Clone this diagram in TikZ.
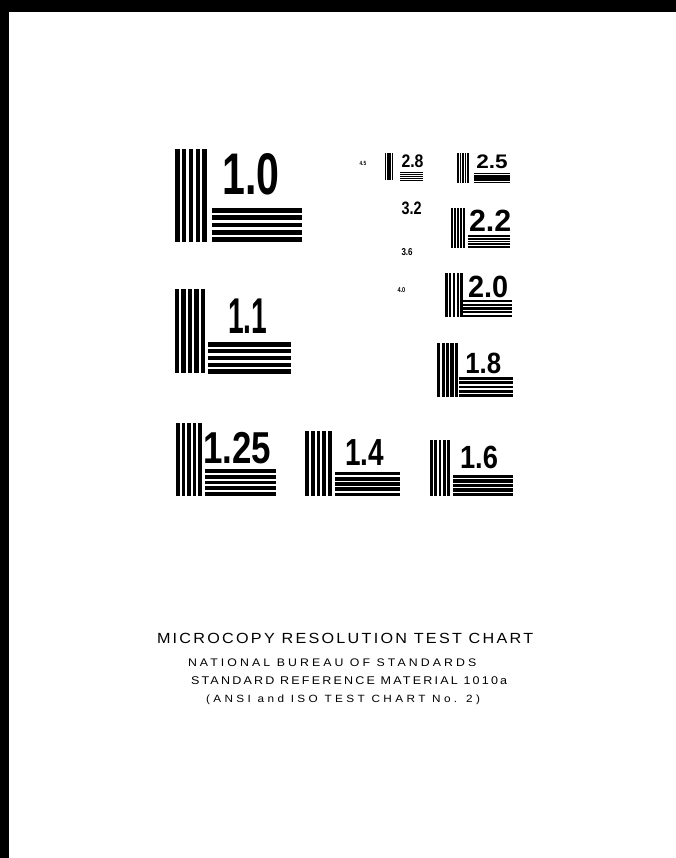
\documentclass[tikz,border=0pt]{standalone}
\usepackage{graphicx}
\usepackage{fontspec}
\setmainfont{Liberation Sans}
\usepackage{tikz}

% five bars across a box: left, top, right, bottom
\newcommand{\vbars}[4]{%
  \pgfmathsetmacro\barw{#3-#1}\pgfmathsetmacro\barh{#4-#2}%
  \begin{scope}[shift={(#1,#2)},xscale=\barw,yscale=\barh]
    \foreach \k in {0,...,4} \fill (\k*0.2141,0) rectangle ++(0.1435,1);
  \end{scope}}
\newcommand{\hbars}[4]{%
  \pgfmathsetmacro\barw{#3-#1}\pgfmathsetmacro\barh{#4-#2}%
  \begin{scope}[shift={(#1,#2)},xscale=\barw,yscale=\barh]
    \foreach \k in {0,...,4} \fill (0,\k*0.2141) rectangle ++(1,0.1435);
  \end{scope}}
\newcommand{\numtext}[3]{\fontsize{#1}{#1}\selectfont\bfseries\scalebox{#2}[1]{#3}}
\newcommand{\captext}[4]{\fontsize{#1}{#1}\selectfont\addfontfeature{LetterSpace=#3}\scalebox{#2}[1]{#4}}

\begin{document}
\begin{tikzpicture}[
    x=1pt, y=-1pt,
    numlabel/.style={anchor=base west, inner sep=0pt, outer sep=0pt},
    caption/.style={anchor=base west, inner sep=0pt, outer sep=0pt}
]
\useasboundingbox (0,0) rectangle (676,858);

% film edge
\fill (0,0) rectangle (676,12);
\fill (0,0) rectangle (9,858);

% large targets
\vbars{175}{149}{207}{242} \hbars{212}{208}{302}{242}
\node[numlabel] (t10) at (222.5,195) {\numtext{58.7}{0.70}{1.0}};

\vbars{175}{289}{205}{373} \hbars{208}{342}{291}{374}
\node[numlabel] (t11) at (228,333) {\numtext{50.3}{0.56}{1.1}};

\vbars{176}{423}{202}{496} \hbars{205}{469}{276}{496}
\node[numlabel] (t125) at (203.2,463) {\numtext{44.7}{0.78}{1.25}};

\vbars{305}{431}{332}{496} \hbars{335}{472}{400}{496}
\node[numlabel] (t14) at (345,465) {\numtext{37.7}{0.74}{1.4}};

\vbars{430}{440}{450}{496} \hbars{453}{475}{513}{496}
\node[numlabel] (t16) at (460,468) {\numtext{32.1}{0.85}{1.6}};

% right column
\vbars{437}{343}{458}{397} \hbars{459}{377}{513}{397}
\node[numlabel] (t18) at (465.3,373) {\numtext{29.3}{0.88}{1.8}};

\vbars{445}{273}{463}{317} \hbars{463}{300}{512}{317}
\node[numlabel] (t20) at (468.1,298) {\numtext{30.7}{0.94}{2.0}};

\vbars{451}{208}{465}{248} \hbars{468}{235}{510}{248}
\node[numlabel] (t22) at (469,232) {\numtext{30.7}{0.99}{2.2}};

\vbars{457}{153}{469}{183} \hbars{474}{173}{510}{183}
\node[numlabel] (t25) at (476.3,169) {\numtext{19.6}{1.15}{2.5}};

\vbars{385}{153}{393}{180} \hbars{400}{172}{423}{181}
\node[numlabel] (t28) at (401.5,168) {\numtext{18.2}{0.87}{2.8}};

% unresolved small targets
\node[numlabel] (t32) at (401.5,215) {\numtext{18}{0.8}{3.2}};
\node[numlabel] (t36) at (401.5,255) {\numtext{10}{0.8}{3.6}};
\node[numlabel] (t40) at (397.5,292) {\numtext{7}{0.8}{4.0}};
\node[numlabel] (t45) at (359.5,166) {\numtext{6}{0.8}{4.5}};

% captions
\node[caption] (title) at (157,643) {\captext{14.7}{1.1}{14}{MICROCOPY RESOLUTION TEST CHART}};
\node[caption] (nbs) at (188,666) {\captext{11}{1.12}{25}{NATIONAL BUREAU OF STANDARDS}};
\node[caption] (srm) at (191,684) {\captext{11.2}{1.12}{17.5}{STANDARD REFERENCE MATERIAL 1010a}};
\node[caption] (ansi) at (206,702) {\captext{10.5}{1.12}{29}{(ANSI and ISO TEST CHART No. 2)}};

\end{tikzpicture}
\end{document}
